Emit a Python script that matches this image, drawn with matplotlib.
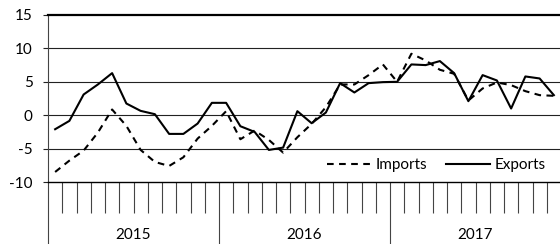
import matplotlib
matplotlib.use("Agg")
import matplotlib.pyplot as plt
import numpy as np

plt.rcParams['font.family'] = ['Lato', 'DejaVu Sans']

# monthly values, Jan 2015 - Dec 2017
exports = [-2.1, -0.85, 3.1, 4.6, 6.3, 1.75, 0.65, 0.15, -2.8, -2.8, -1.25, 1.85,
           1.85, -1.65, -2.5, -5.2, -4.85, 0.6, -1.2, 0.4, 4.8, 3.4, 4.8, 4.95,
           5.0, 7.6, 7.5, 8.1, 6.3, 2.1, 6.0, 5.2, 1.0, 5.8, 5.5, 3.0]
imports = [-8.5, -6.8, -5.3, -2.6, 0.85, -1.6, -5.2, -7.0, -7.6, -6.3, -3.5, -1.6,
           0.6, -3.6, -2.3, -3.7, -5.6, -3.3, -1.3, 1.2, 4.6, 4.6, 6.0, 7.6,
           5.0, 9.2, 8.2, 6.8, 6.2, 2.2, 4.0, 4.9, 4.5, 3.6, 3.0, 2.9]
years = ["2015", "2016", "2017"]
y_ticks = [-10, -5, 0, 5, 10, 15]

x = np.arange(len(exports)) + 0.5

fig = plt.figure(figsize=(5.6, 2.44), dpi=100)
ax = fig.add_axes([48 / 560, 62 / 244, 513 / 560, 167 / 244])

ax.plot(x, imports, color="black", lw=1.5, ls=(0, (3.2, 2.6)), label="Imports")
ax.plot(x, exports, color="black", lw=1.5, label="Exports")

ax.set_xlim(0, 36)
ax.set_ylim(-10, 15)
ax.set_yticks(y_ticks)
ax.set_yticklabels([str(v) for v in y_ticks], fontsize=11)
for v in y_ticks[1:-1]:
    ax.axhline(v, color="#222222", lw=0.8, zorder=0)

# month ticks below the plot, long lines between years
ax.set_xticks([0, 12, 24])
ax.set_xticklabels([])
ax.set_xticks([m for m in range(1, 36) if m % 12 != 0], minor=True)
ax.tick_params(axis="x", which="major", length=45, width=0.8, color="#444444", direction="out")
ax.tick_params(axis="x", which="minor", length=22.5, width=0.8, color="#444444", direction="out")
ax.tick_params(axis="y", length=3.6, width=0.8, color="#222222", pad=7.5)

for k, yr in enumerate(years):
    ax.text(k * 12 + 6, -0.317, yr, transform=ax.get_xaxis_transform(),
            ha="center", va="center", fontsize=11)

ax.spines["top"].set_linewidth(1.6)
ax.spines["bottom"].set_linewidth(1.0)
ax.spines["left"].set_linewidth(0.8)
ax.spines["left"].set_color("#444444")
ax.spines["right"].set_visible(False)

ax.legend(loc="center right", bbox_to_anchor=(0.97, 0.10), ncol=2, frameon=False,
          fontsize=11, handlelength=2.9, handletextpad=0.3, columnspacing=1.2,
          borderaxespad=0, borderpad=0)

fig.savefig("out.png", dpi=100)
